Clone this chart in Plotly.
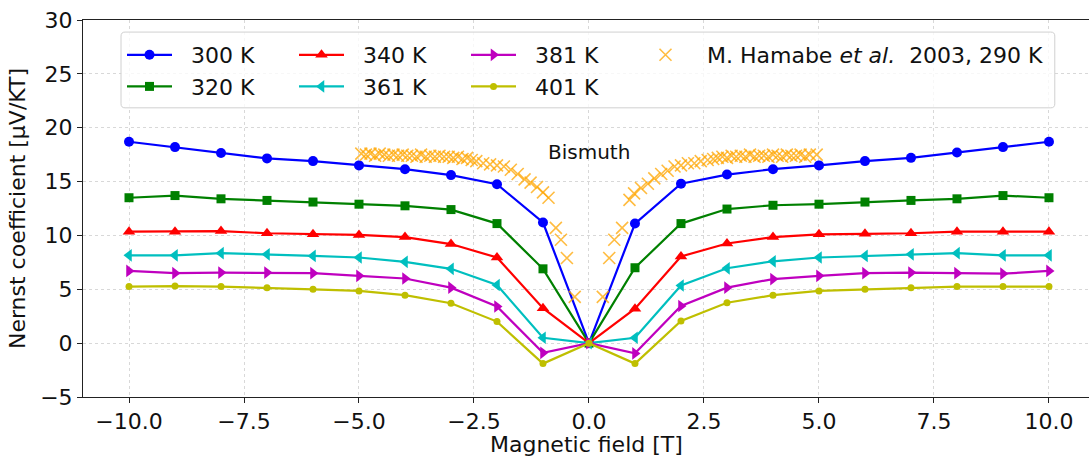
import plotly.graph_objects as go

# ---- data ----
field = [-10, -9, -8, -7, -6, -5, -4, -3, -2, -1, 0, 1, 2, 3, 4, 5, 6, 7, 8, 9, 10]

n300 = [18.7, 18.2, 17.65, 17.15, 16.9, 16.5, 16.15, 15.6, 14.75, 11.2, 0.0,
        11.1, 14.8, 15.65, 16.15, 16.5, 16.9, 17.2, 17.7, 18.2, 18.7]
n320 = [13.5, 13.7, 13.4, 13.25, 13.1, 12.9, 12.75, 12.4, 11.1, 6.9, 0.0,
        7.0, 11.1, 12.45, 12.8, 12.9, 13.1, 13.25, 13.4, 13.7, 13.5]
n340 = [10.35, 10.35, 10.4, 10.2, 10.1, 10.05, 9.85, 9.2, 7.95, 3.25, 0.0,
        3.2, 8.05, 9.25, 9.85, 10.1, 10.15, 10.2, 10.35, 10.35, 10.35]
n361 = [8.15, 8.15, 8.35, 8.25, 8.1, 7.95, 7.55, 6.9, 5.4, 0.5, 0.0,
        0.5, 5.35, 6.95, 7.6, 7.95, 8.1, 8.25, 8.35, 8.15, 8.15]
n381 = [6.7, 6.5, 6.55, 6.55, 6.5, 6.25, 6.0, 5.15, 3.4, -0.9, 0.0,
        -0.95, 3.45, 5.15, 5.95, 6.25, 6.5, 6.55, 6.5, 6.45, 6.7]
n401 = [5.25, 5.3, 5.25, 5.15, 5.0, 4.85, 4.45, 3.7, 2.0, -1.9, 0.0,
        -1.9, 2.05, 3.75, 4.45, 4.85, 5.0, 5.15, 5.25, 5.25, 5.25]

ham_B = [-4.95, -4.85, -4.75, -4.65, -4.55, -4.45, -4.35, -4.25, -4.15, -4.05,
         -3.95, -3.85, -3.75, -3.65, -3.55, -3.45, -3.35, -3.25, -3.15, -3.05,
         -2.95, -2.85, -2.75, -2.65, -2.55, -2.45, -2.3, -2.15, -2.0, -1.85,
         -1.7, -1.55, -1.4, -1.27, -1.13, -1.0, -0.88, -0.72, -0.61, -0.48, -0.31,
         0.3, 0.44, 0.55, 0.72, 0.88, 0.98, 1.13, 1.28, 1.42, 1.57,
         1.71, 1.86, 2.0, 2.15, 2.29, 2.43, 2.58, 2.7, 2.8, 2.9,
         3.0, 3.1, 3.2, 3.3, 3.4, 3.5, 3.6, 3.7, 3.8, 3.9,
         4.0, 4.1, 4.2, 4.3, 4.4, 4.5, 4.6, 4.7, 4.8, 4.95]
ham_N = [17.6, 17.5, 17.6, 17.4, 17.6, 17.5, 17.4, 17.5, 17.4, 17.5,
         17.4, 17.4, 17.3, 17.5, 17.3, 17.4, 17.3, 17.4, 17.3, 17.3,
         17.2, 17.3, 17.1, 17.2, 17.0, 16.9, 16.7, 16.6, 16.5, 16.4,
         16.1, 15.7, 15.2, 14.9, 14.5, 14.0, 13.5, 10.7, 9.6, 7.9, 4.3,
         4.3, 7.9, 9.6, 10.7, 13.3, 13.9, 14.4, 14.8, 15.3, 15.7,
         16.0, 16.4, 16.5, 16.7, 16.7, 16.9, 17.0, 17.1, 17.2, 17.3,
         17.2, 17.4, 17.3, 17.4, 17.3, 17.5, 17.3, 17.4, 17.4, 17.3,
         17.5, 17.4, 17.3, 17.5, 17.4, 17.4, 17.5, 17.3, 17.5, 17.5]

series = [
    ("300 K", n300, "#0000ff", "circle", 10, "legend"),
    ("320 K", n320, "#008000", "square", 9, "legend"),
    ("340 K", n340, "#ff0000", "triangle-up", 11, "legend2"),
    ("361 K", n361, "#00bfbf", "triangle-left", 11, "legend2"),
    ("381 K", n381, "#bf00bf", "triangle-right", 11, "legend3"),
    ("401 K", n401, "#bfbf00", "circle", 7, "legend3"),
]

FONT = "DejaVu Sans"
NB = "\u00a0\u00a0"

fig = go.Figure()
for name, vals, col, sym, size, leg in series:
    fig.add_trace(go.Scatter(
        x=field, y=vals, mode="lines+markers", name=NB + name,
        line=dict(color=col, width=2.2),
        marker=dict(symbol=sym, size=size, color=col),
        legend=leg, legendgroup=name,
    ))

fig.add_trace(go.Scatter(
    x=ham_B, y=ham_N, mode="markers",
    name=NB + "M. Hamabe <i>et al.</i>\u00a0 2003, 290 K",
    marker=dict(symbol="x-thin-open", size=12, color="rgba(255,165,0,0.75)",
                line=dict(color="rgba(255,165,0,0.75)", width=1.6)),
    legend="legend4",
))

fig.add_annotation(x=0, y=17.7, text="Bismuth", showarrow=False,
                   font=dict(family=FONT, size=20, color="#111"))

W, H, L, T = 1006, 377, 83, 20
def px2x(p): return (p - L) / W
def px2y(p): return (397 - p) / H

# x-axis title placed as annotation to match reference position
fig.add_annotation(x=0.5, xref="paper", y=px2y(444), yref="paper", yanchor="middle",
                   text="Magnetic field [T]", showarrow=False,
                   font=dict(family=FONT, size=22, color="#111"))

# legend frame (matplotlib style)
x0, x1, y0, y1 = 0.0378, 0.966, 0.767, 0.968
rx, ry = 0.004, 0.0106
path = (f"M{x0+rx},{y0} L{x1-rx},{y0} Q{x1},{y0} {x1},{y0+ry} "
        f"L{x1},{y1-ry} Q{x1},{y1} {x1-rx},{y1} L{x0+rx},{y1} "
        f"Q{x0},{y1} {x0},{y1-ry} L{x0},{y0+ry} Q{x0},{y0} {x0+rx},{y0} Z")
fig.add_shape(type="path", path=path, xref="paper", yref="paper",
              fillcolor="rgba(255,255,255,0.8)", line=dict(color="#d0d0d0", width=1),
              layer="above")

leg_common = dict(bgcolor="rgba(0,0,0,0)", borderwidth=0, yanchor="top", xanchor="left",
                  font=dict(family=FONT, size=22, color="#111"), itemwidth=45,
                  tracegroupgap=0, orientation="v")
y_top = px2y(34)
fig.update_layout(
    legend=dict(x=px2x(122), y=y_top, **leg_common),
    legend2=dict(x=px2x(294), y=y_top, **leg_common),
    legend3=dict(x=px2x(466), y=y_top, **leg_common),
    legend4=dict(x=px2x(638), y=y_top, **leg_common),
)

axis_common = dict(showline=True, linecolor="#222", linewidth=1, ticks="outside",
                   ticklen=5, tickwidth=1, tickcolor="#222", showgrid=True,
                   gridcolor="#d8d8d8", griddash="dot", gridwidth=1, zeroline=False,
                   tickfont=dict(family=FONT, size=22, color="#111"))
fig.update_xaxes(range=[-11, 10.87], tickvals=[-10, -7.5, -5, -2.5, 0, 2.5, 5, 7.5, 10],
                 tickformat=".1f", mirror=True, automargin=False,
                 **axis_common)
fig.update_yaxes(range=[-5, 30], dtick=5, tick0=0, mirror=False,
                 title=dict(text="Nernst coefficient [μV/KT]",
                            font=dict(family=FONT, size=22, color="#111"), standoff=8),
                 **axis_common)
fig.update_layout(width=1089, height=459, margin=dict(l=83, r=0, t=20, b=62),
                  plot_bgcolor="white", paper_bgcolor="white",
                  font=dict(family=FONT, color="#111"), showlegend=True)

fig.write_html("out.html")
